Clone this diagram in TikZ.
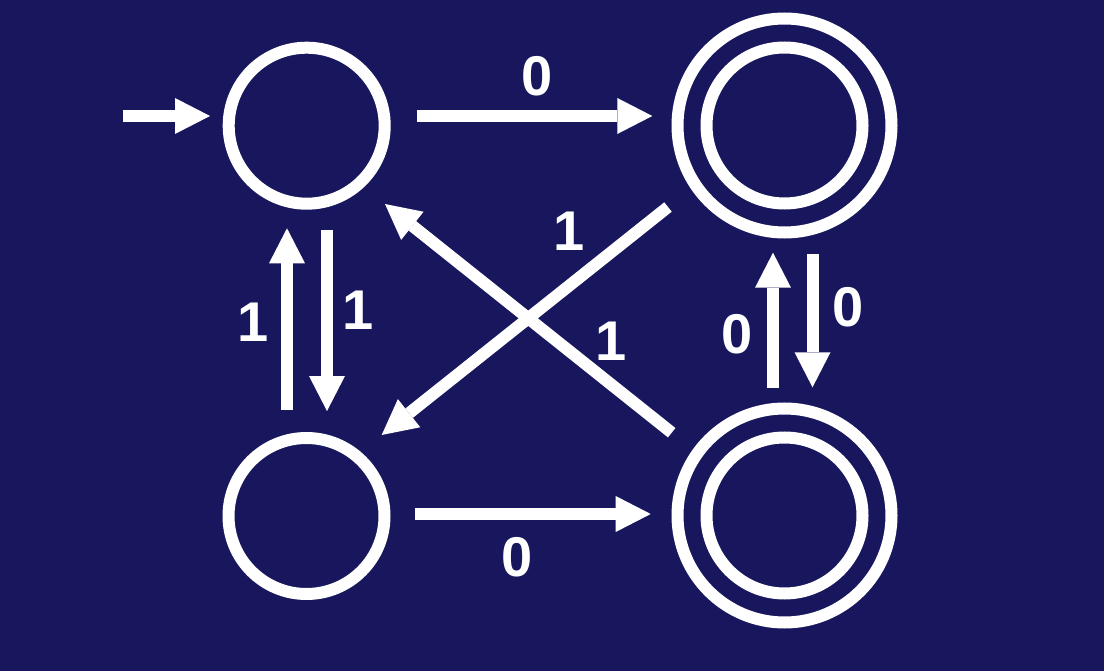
\documentclass[tikz,border=0pt]{standalone}
\usepackage{fontspec}
\setmainfont{Liberation Sans}
\usetikzlibrary{arrows.meta,calc}
\definecolor{bgnavy}{RGB}{24,23,94}
\tikzset{
  state/.style={circle,draw=white,line width=12pt,minimum size=156pt,inner sep=0pt,outer sep=0pt},
  accstate/.style={circle,draw=white,line width=12pt,minimum size=214pt,inner sep=0pt,outer sep=0pt},
  arr/.style={draw=white,line width=12pt,-{Triangle[length=35pt,width=36pt,line width=0pt]}},
  lbl/.style={text=white,font=\bfseries\fontsize{56}{56}\selectfont,inner sep=0pt,anchor=center}
}
\begin{document}
\begin{tikzpicture}[x=1pt,y=-1pt]
\fill[bgnavy] (0,0) rectangle (1104,671);
\useasboundingbox (0,0) rectangle (1104,671);
% states
\node[state] (A) at (306.7,125.7) {};
\node[state] (C) at (306.5,516) {};
\node[accstate] (B) at (784.5,125.5) {};
\draw[white,line width=12pt] (B) circle (78);
\node[accstate] (D) at (784.5,515.5) {};
\draw[white,line width=12pt] (D) circle (78);
% initial arrow
\coordinate (init) at (122.7,116);
\draw[arr] (init) -- ($(A)+(-96.7,-9.7)$);
% transitions
\draw[arr] ($(A)+(110,-9.7)$) -- ($(B)+(-132.2,-9.5)$);
\draw[arr] ($(C)+(108.5,-2)$) -- ($(D)+(-133.8,-1.5)$);
\draw[arr] ($(A)+(20.3,104.3)$) -- ($(C)+(20.5,-105)$);
\draw[arr] ($(C)+(-19.5,-106)$) -- ($(A)+(-19.7,102.6)$);
\draw[arr] ($(B)+(-116.5,81.5)$) -- ($(C)+(75.2,-81)$);
\draw[arr] ($(D)+(-112.8,-82.8)$) -- ($(A)+(78.3,78.3)$);
\draw[arr] ($(D)+(-11.5,-127.8)$) -- ($(B)+(-11.5,127.2)$);
\draw[arr] ($(B)+(28,128.5)$) -- ($(D)+(28,-128.2)$);
% labels
\node[lbl] (l1) at (537,76) {0};
\node[lbl] (l2) at (517,557) {0};
\node[lbl] (l3) at (253,322.3) {1};
\node[lbl] (l4) at (358.5,310.5) {1};
\node[lbl] (l5) at (569,231) {1};
\node[lbl] (l6) at (611,341) {1};
\node[lbl] (l7) at (737,334.5) {0};
\node[lbl] (l8) at (848.5,307) {0};
\end{tikzpicture}
\end{document}
